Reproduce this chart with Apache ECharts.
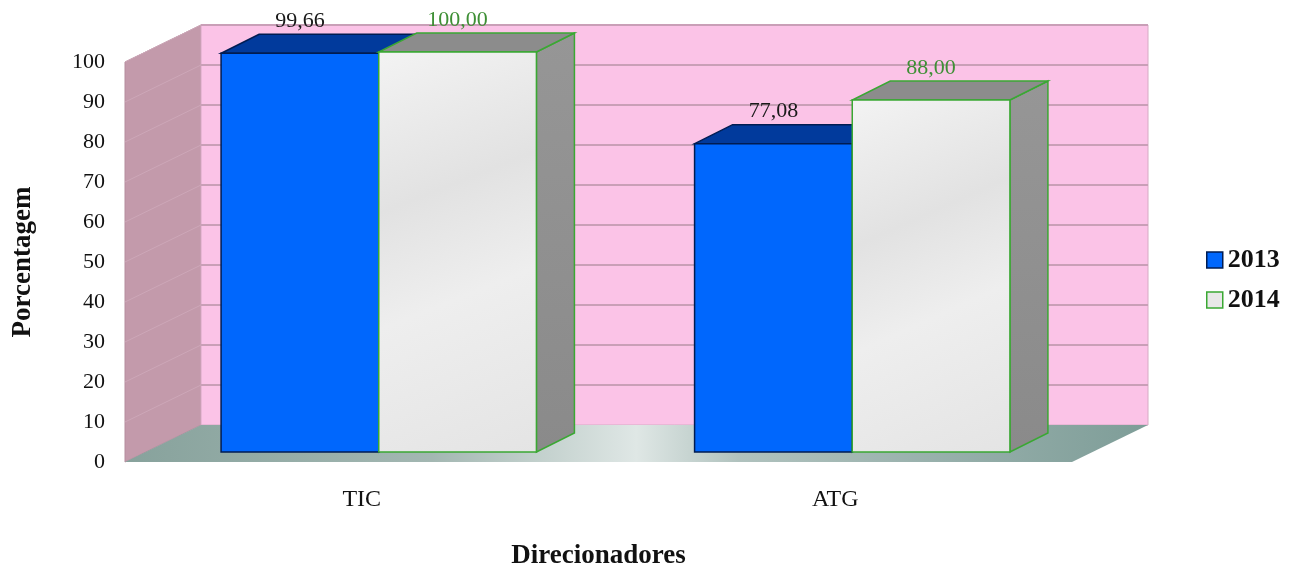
<!DOCTYPE html>
<html>
<head>
<meta charset="utf-8">
<title>Direcionadores</title>
<script src="https://cdn.jsdelivr.net/npm/echarts@6/dist/echarts.min.js"></script>
<style>
    html, body { margin: 0; padding: 0; background: #fff; }
    #chart { width: 1303px; height: 571px; }
</style>
</head>
<body>
<div id="chart"></div>
<script>
// dados do gráfico
var categories = ['TIC', 'ATG'];
var values2013 = [99.66, 77.08];
var values2014 = [100.00, 88.00];
var yTicks = [0, 10, 20, 30, 40, 50, 60, 70, 80, 90, 100];

var FONT = 'Liberation Serif';

// profundidade da "caixa" 3D (parede / chão) e das barras
var WALL_DX = 76, WALL_DY = -37;
var FRONT_DX = 20, FRONT_DY = -10;
var BAR_DX = 38, BAR_DY = -19;

function fmt(v) {
    return v.toFixed(2).replace('.', ',');
}

// paredes, grade e chão
function renderWalls(params, api) {
    var cs = params.coordSys;
    var top = api.coord([0, yTicks[yTicks.length - 1]])[1];
    var bottom = api.coord([0, yTicks[0]])[1];
    var left = cs.x, right = cs.x + cs.width;
    var children = [];

    // parede lateral
    children.push({
        type: 'polygon',
        shape: { points: [[left, bottom], [left, top], [left + WALL_DX, top + WALL_DY], [left + WALL_DX, bottom + WALL_DY]] },
        style: { fill: '#c39aab', stroke: '#b58c9d', lineWidth: 1 }
    });
    // parede do fundo
    children.push({
        type: 'rect',
        shape: { x: left + WALL_DX, y: top + WALL_DY, width: cs.width, height: bottom - top },
        style: { fill: '#fbc3e7', stroke: '#d6aac4', lineWidth: 1 }
    });
    // linhas de grade
    yTicks.forEach(function (v) {
        if (v === yTicks[0]) return;
        var y = api.coord([0, v])[1];
        children.push({
            type: 'line',
            shape: { x1: left + WALL_DX, y1: y + WALL_DY, x2: right + WALL_DX, y2: y + WALL_DY },
            style: { stroke: '#c99fb7', lineWidth: 2 }
        });
        children.push({
            type: 'line',
            shape: { x1: left, y1: y, x2: left + WALL_DX, y2: y + WALL_DY },
            style: { stroke: '#cda7b8', lineWidth: 1 }
        });
    });
    // chão
    children.push({
        type: 'polygon',
        shape: { points: [[left, bottom], [right, bottom], [right + WALL_DX, bottom + WALL_DY], [left + WALL_DX, bottom + WALL_DY]] },
        style: {
            fill: new echarts.graphic.LinearGradient(0, 0, 1, 0, [
                { offset: 0, color: '#87a29c' },
                { offset: 0.3, color: '#a3b7b2' },
                { offset: 0.5, color: '#dfe7e5' },
                { offset: 0.6, color: '#b0c2be' },
                { offset: 1, color: '#7e9d98' }
            ])
        }
    });
    return { type: 'group', children: children, silent: true };
}

// barra 3D (frente, topo, lado) + rótulo
function makeBarRenderer(index, look) {
    return function (params, api) {
        var cat = api.value(0), val = api.value(1);
        var base = api.coord([cat, 0]);
        var top = api.coord([cat, val]);
        var band = api.size([1, 0])[0];
        var barW = band * 0.333;
        var x0 = base[0] - barW - 3 + index * barW + FRONT_DX;
        var x1 = x0 + barW;
        var yb = base[1] + FRONT_DY;
        var yt = top[1] + FRONT_DY;
        return {
            type: 'group',
            children: [
                {
                    type: 'polygon',
                    shape: { points: [[x1, yt], [x1 + BAR_DX, yt + BAR_DY], [x1 + BAR_DX, yb + BAR_DY], [x1, yb]] },
                    style: { fill: look.side, stroke: look.edge, lineWidth: 1.5 }
                },
                {
                    type: 'polygon',
                    shape: { points: [[x0, yt], [x1, yt], [x1 + BAR_DX, yt + BAR_DY], [x0 + BAR_DX, yt + BAR_DY]] },
                    style: { fill: look.top, stroke: look.edge, lineWidth: 1.5 }
                },
                {
                    type: 'rect',
                    shape: { x: x0, y: yt, width: barW, height: yb - yt },
                    style: { fill: look.front, stroke: look.edge, lineWidth: 1.5 }
                },
                {
                    type: 'text',
                    x: (x0 + x1) / 2,
                    y: yt + BAR_DY - 13,
                    style: {
                        text: fmt(val),
                        fill: look.label,
                        font: '22px "' + FONT + '"',
                        align: 'center',
                        verticalAlign: 'middle'
                    }
                }
            ]
        };
    };
}

var look2013 = {
    front: '#0067fd',
    top: '#013a9c',
    side: '#0a4fc2',
    edge: '#001c52',
    label: '#1a1a1a'
};
var look2014 = {
    front: new echarts.graphic.LinearGradient(0, 0, 1, 1, [
        { offset: 0, color: '#f3f3f3' },
        { offset: 0.35, color: '#e2e2e2' },
        { offset: 0.6, color: '#eeeeee' },
        { offset: 1, color: '#e4e4e4' }
    ]),
    top: '#8c8c8c',
    side: new echarts.graphic.LinearGradient(0, 0, 0, 1, [
        { offset: 0, color: '#969696' },
        { offset: 1, color: '#8a8a8a' }
    ]),
    edge: '#3aa833',
    label: '#3e8f35'
};

var chart = echarts.init(document.getElementById('chart'));

var option = {
    animation: false,
    grid: { left: 125, right: 231, top: 62, bottom: 109, outerBoundsMode: 'none' },
    legend: {
        orient: 'vertical',
        left: 1201,
        top: 242,
        itemWidth: 16,
        itemHeight: 16,
        itemGap: 14,
        icon: 'rect',
        textStyle: { fontFamily: FONT, fontWeight: 'bold', fontSize: 26, color: '#111' },
        data: [
            { name: '2013', itemStyle: { color: '#0067fd', borderColor: '#001c52', borderWidth: 1.5 } },
            { name: '2014', itemStyle: { color: '#e8e8e8', borderColor: '#3aa833', borderWidth: 1.5 } }
        ]
    },
    xAxis: {
        type: 'category',
        data: categories,
        axisLine: { show: false },
        axisTick: { show: false },
        axisLabel: { fontFamily: FONT, fontSize: 24, color: '#111', margin: 26 },
        name: 'Direcionadores',
        nameLocation: 'middle',
        nameGap: 81,
        nameTextStyle: { fontFamily: FONT, fontWeight: 'bold', fontSize: 27, color: '#111' }
    },
    yAxis: {
        type: 'value',
        min: 0,
        max: 100,
        interval: 10,
        axisLine: { show: false },
        axisTick: { show: false },
        splitLine: { show: false },
        axisLabel: { fontFamily: FONT, fontSize: 22, color: '#111', margin: 20 },
        name: 'Porcentagem',
        nameLocation: 'middle',
        nameRotate: 90,
        nameGap: 88,
        nameTextStyle: { fontFamily: FONT, fontWeight: 'bold', fontSize: 27, color: '#111' }
    },
    series: [
        {
            name: 'walls',
            type: 'custom',
            silent: true,
            renderItem: renderWalls,
            data: [[0, 0]],
            z: 1
        },
        {
            name: '2013',
            type: 'custom',
            renderItem: makeBarRenderer(0, look2013),
            itemStyle: { color: '#0067fd' },
            data: categories.map(function (c, i) { return [i, values2013[i]]; }),
            z: 2
        },
        {
            name: '2014',
            type: 'custom',
            renderItem: makeBarRenderer(1, look2014),
            itemStyle: { color: '#e8e8e8' },
            data: categories.map(function (c, i) { return [i, values2014[i]]; }),
            z: 2
        }
    ]
};

chart.setOption(option);
</script>
</body>
</html>
